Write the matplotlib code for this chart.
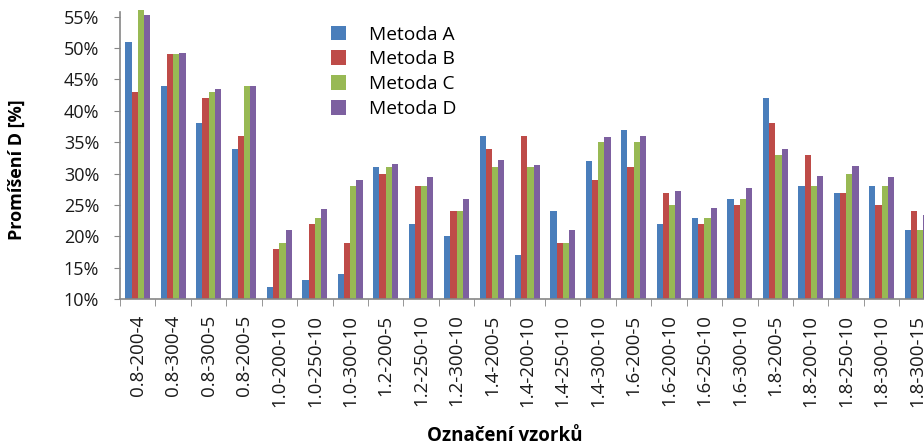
import numpy as np
import matplotlib
matplotlib.use("Agg")
import matplotlib.pyplot as plt
from matplotlib.ticker import FuncFormatter, MultipleLocator

plt.rcParams["font.family"] = ["Open Sans", "DejaVu Sans"]

# Sample labels and mixing results per method [%]
samples = [
    "0.8-200-4", "0.8-300-4", "0.8-300-5", "0.8-200-5",
    "1.0-200-10", "1.0-250-10", "1.0-300-10",
    "1.2-200-5", "1.2-250-10", "1.2-300-10",
    "1.4-200-5", "1.4-200-10", "1.4-250-10", "1.4-300-10",
    "1.6-200-5", "1.6-200-10", "1.6-250-10", "1.6-300-10",
    "1.8-200-5", "1.8-200-10", "1.8-250-10", "1.8-300-10", "1.8-300-15",
]
metoda_a = [51, 44, 38, 34, 12, 13, 14, 31, 22, 20, 36, 17, 24, 32,
            37, 22, 23, 26, 42, 28, 27, 28, 21]
metoda_b = [43, 49, 42, 36, 18, 22, 19, 30, 28, 24, 34, 36, 19, 29,
            31, 27, 22, 25, 38, 33, 27, 25, 24]
metoda_c = [56, 49, 43, 44, 19, 23, 28, 31, 28, 24, 31, 31, 19, 35,
            35, 25, 23, 26, 33, 28, 30, 28, 21]
metoda_d = [55.3, 49.2, 43.5, 44, 21.1, 24.3, 29, 31.6, 29.5, 25.9, 32.2, 31.4, 21, 35.8,
            36, 27.3, 24.5, 27.8, 34, 29.7, 31.2, 29.5, 23.4]

series = [("Metoda A", metoda_a, "#4A7EBB"),
          ("Metoda B", metoda_b, "#BE4B48"),
          ("Metoda C", metoda_c, "#98B954"),
          ("Metoda D", metoda_d, "#7D60A0")]

fig = plt.figure(figsize=(9.24, 4.47), dpi=100)
ax = fig.add_axes([120 / 924, 147.7 / 447, 814.7 / 924, 287 / 447])

x = np.arange(len(samples))
w = 0.175
base = 10
for i, (name, vals, col) in enumerate(series):
    h = np.array(vals) - base
    ax.bar(x + (i - 1.5) * w, h, width=w, bottom=base, color=col,
           label=name, clip_on=False)

ax.set_xlim(-0.5, len(samples) - 0.5)
ax.set_ylim(10, 55.7)
ax.yaxis.set_major_locator(MultipleLocator(5))
ax.yaxis.set_major_formatter(FuncFormatter(lambda v, p: f"{v:.0f}%"))

ax.set_xticks(x)
ax.set_xticklabels(samples, rotation=90)
ax.set_xticks(np.arange(len(samples) + 1) - 0.5, minor=True)
ax.tick_params(axis="x", which="major", length=0, pad=11, labelsize=13.5,
               labelcolor="#1a1a1a")
ax.tick_params(axis="x", which="minor", length=5, color="#868686")
ax.tick_params(axis="y", length=4, color="#868686", pad=11, labelsize=13,
               labelcolor="#1a1a1a")

for s in ["top", "right"]:
    ax.spines[s].set_visible(False)
for s in ["left", "bottom"]:
    ax.spines[s].set_color("#868686")
    ax.spines[s].set_linewidth(1.2)

fig.text(17 / 924, 1 - 170 / 447, "Promíšení D [%]", rotation=90,
         ha="center", va="center", fontsize=13, fontweight="bold")
fig.text(505 / 924, 1 - 436 / 447, "Označení vzorků", ha="center",
         va="center", fontsize=13.5, fontweight="bold")

ax.legend(loc="upper left", bbox_to_anchor=(321 / 924, 1 - 16 / 447),
          bbox_transform=fig.transFigure, frameon=False, fontsize=13.8,
          handlelength=0.8, handleheight=0.8, handletextpad=1.2,
          labelspacing=0.36, borderpad=0)

fig.savefig("out.png", dpi=100)
